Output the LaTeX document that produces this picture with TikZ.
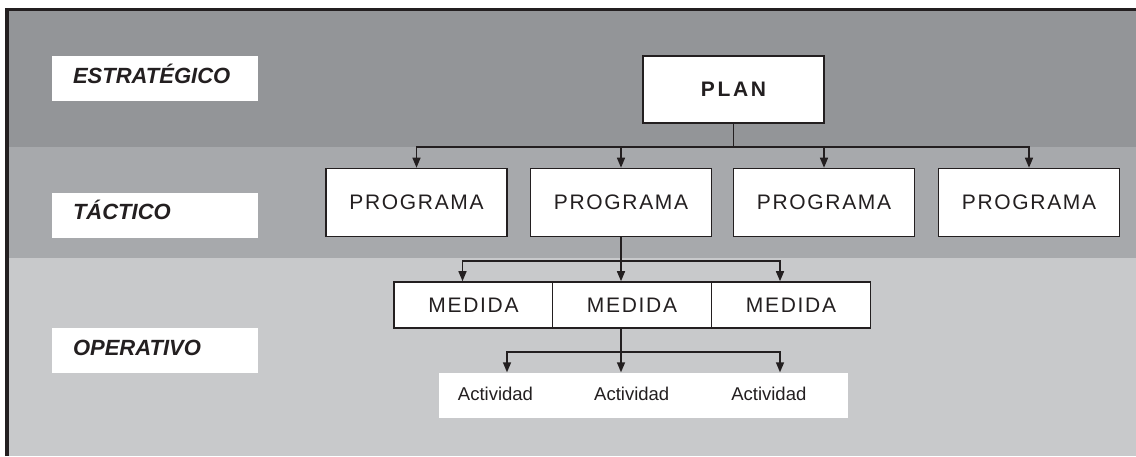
\documentclass[tikz,border=0pt]{standalone}
\usepackage{fontspec}
\setmainfont{Liberation Sans}
\newfontfamily\cajafont[LetterSpace=8]{Liberation Sans}
\newfontfamily\planfont[LetterSpace=13]{Liberation Sans}
\usetikzlibrary{arrows.meta}
\definecolor{grisA}{HTML}{939598}
\definecolor{grisB}{HTML}{A7A9AC}
\definecolor{grisC}{HTML}{C8C9CB}
\definecolor{tinta}{HTML}{231F20}
\begin{document}
\begin{tikzpicture}[x=1pt,y=-1pt,
		nivel/.style={fill=white,inner xsep=21pt,inner ysep=0pt,text width=164pt,text height=15pt,text depth=5.5pt,minimum height=45pt,align=left,text=tinta,font=\fontsize{22}{24}\selectfont\bfseries\itshape},
		caja/.style={draw=tinta,line width=1.6pt,fill=white,inner sep=0pt,text=tinta,font=\cajafont\fontsize{21}{24}\selectfont},
		flecha/.style={draw=tinta,line width=1.5pt,-{Triangle[length=10pt,width=8pt]}}]
	\useasboundingbox (0,0) rectangle (1136,456);
	% franjas de fondo
	\fill[grisA] (7,9.5) rectangle (1136,147);
	\fill[grisB] (7,147) rectangle (1136,258);
	\fill[grisC] (7,258) rectangle (1136,456);
	\draw[tinta,line width=3.5pt] (7,456) |- (1136,9.5);
	% niveles
	\node[nivel] (estr) at (155,78.5) {ESTRATÉGICO};
	\node[nivel] (tact) at (155,215) {TÁCTICO};
	\node[nivel] (oper) at (155,350.5) {OPERATIVO};
	% cajas
	\node[caja,minimum width=181pt,minimum height=67pt,font=\planfont\fontsize{21}{24}\selectfont\bfseries] (plan) at (733.5,89.5) {PLAN};
	\foreach \x [count=\i] in {416.5,621,824,1029}
		\node[caja,minimum width=181pt,minimum height=68pt] (prog\i) at (\x,202.5) {PROGRAMA};
	\foreach \x [count=\i] in {473.5,632,791}
		\node[caja,minimum width=159pt,minimum height=46pt] (med\i) at (\x,305) {MEDIDA};
	\node[fill=white,minimum width=409pt,minimum height=45pt,inner sep=0pt] (acts) at (643.5,395) {};
	\foreach \x [count=\i] in {495.5,631.7,768.8}
		\node[text=tinta,font=\fontsize{18.5}{20}\selectfont] (act\i) at (\x,394) {Actividad};
	% conectores
	\coordinate (pj) at (733.5,147);
	\coordinate (mj) at (621,261);
	\coordinate (aj) at (621,352);
	\draw[tinta,line width=1.5pt] (plan) -- (pj);
	\foreach \i in {1,...,4}
		\draw[flecha] (pj) -| (prog\i.north);
	\draw[tinta,line width=1.5pt] (prog2.south) -- (mj);
	\foreach \i in {1,2,3}
		\draw[flecha] (mj) -| ([xshift=-11pt]med\i.north);
	\draw[tinta,line width=1.5pt] (aj |- med2.south) -- (aj);
	\foreach \x in {507,621,780}
		\draw[flecha] (aj) -| (\x,0 |- acts.north);
\end{tikzpicture}
\end{document}
